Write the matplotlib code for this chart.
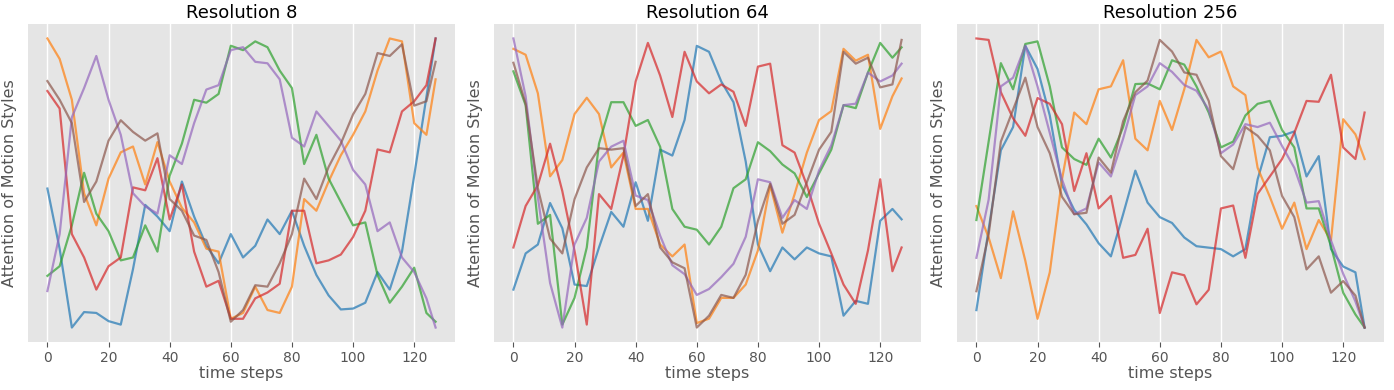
import matplotlib
matplotlib.use("Agg")
import matplotlib.pyplot as plt

plt.style.use("ggplot")
plt.rcParams['font.family'] = ['DejaVu Sans']

time_steps = list(range(0, 125, 4)) + [127]
titles = ["Resolution 8", "Resolution 64", "Resolution 256"]
colors = ["tab:blue", "tab:orange", "tab:green", "tab:red", "tab:purple", "tab:brown"]

# Resolution 8
res8_blue = [0.476,0.27,0.0,0.053,0.05,0.022,0.01,0.2, 0.42,0.38,0.33,0.5,0.38,0.28,0.22,0.32,
             0.24,0.28,0.37,0.32,0.40,0.28,0.18,0.11, 0.062,0.065,0.085,0.19,0.13,0.26,0.52,0.79, 0.99]
res8_orange = [0.99,0.92,0.78,0.46,0.35,0.51,0.60,0.62, 0.49,0.635,0.50,0.41,0.36,0.27,0.26,0.03,
               0.05,0.14,0.06,0.05,0.14,0.44,0.40,0.50, 0.59,0.66,0.74,0.88,0.99,0.98,0.70,0.66, 0.85]
res8_green = [0.177,0.21,0.35,0.53,0.39,0.33,0.23,0.24, 0.35,0.26,0.52,0.63,0.78,0.77,0.80,0.965,
              0.95,0.98,0.96,0.88,0.82,0.56,0.66,0.51, 0.43,0.35,0.36,0.18,0.085,0.14,0.205,0.05, 0.02]
res8_red = [0.81,0.75,0.32,0.24,0.13,0.21,0.24,0.48, 0.47,0.58,0.37,0.49,0.26,0.14,0.16,0.03,
            0.03,0.10,0.12,0.15,0.40,0.40,0.22,0.23, 0.25,0.31,0.40,0.61,0.60,0.74,0.775,0.83, 0.99]
res8_purple = [0.125,0.32,0.72,0.82,0.93,0.78,0.66,0.46, 0.415,0.39,0.59,0.56,0.70,0.815,0.83,0.95,
               0.96,0.91,0.905,0.85,0.65,0.62,0.74,0.69, 0.64,0.54,0.49,0.33,0.36,0.24,0.19,0.10, 0.0]
res8_brown = [0.844,0.78,0.70,0.43,0.50,0.64,0.71,0.67, 0.64,0.665,0.44,0.40,0.315,0.30,0.19,0.02,
              0.06,0.145,0.14,0.22,0.32,0.51,0.44,0.55, 0.63,0.73,0.80,0.94,0.93,0.97,0.76,0.775, 0.91]

# Resolution 64
res64_blue = [0.148,0.27,0.30,0.44,0.355,0.165,0.16,0.29, 0.41,0.36,0.51,0.38,0.62,0.60,0.72,0.97,
              0.95,0.85,0.78,0.58,0.30,0.21,0.29,0.25, 0.29,0.27,0.26,0.06,0.11,0.10,0.38,0.42, 0.385]
res64_orange = [0.96,0.94,0.81,0.53,0.585,0.74,0.795,0.74, 0.56,0.61,0.42,0.42,0.30,0.26,0.30,0.035,
                0.05,0.12,0.12,0.165,0.28,0.50,0.34,0.47, 0.61,0.72,0.75,0.96,0.92,0.94,0.69,0.80, 0.86]
res64_green = [0.884,0.77,0.37,0.40,0.03,0.12,0.29,0.64, 0.78,0.78,0.70,0.72,0.63,0.42,0.36,0.35,
               0.30,0.36,0.49,0.52,0.645,0.615,0.57,0.54, 0.46,0.54,0.62,0.77,0.76,0.88,0.98,0.93, 0.965]
res64_red = [0.29,0.43,0.50,0.64,0.48,0.28,0.03,0.47, 0.42,0.60,0.85,0.98,0.87,0.73,0.95,0.85,
             0.81,0.84,0.815,0.70,0.90,0.91,0.635,0.61, 0.50,0.37,0.27,0.165,0.10,0.28,0.52,0.21, 0.29]
res64_purple = [0.995,0.80,0.46,0.17,0.02,0.30,0.39,0.58, 0.63,0.65,0.465,0.45,0.33,0.23,0.20,0.13,
                0.15,0.19,0.235,0.326,0.52,0.51,0.39,0.45, 0.42,0.55,0.635,0.77,0.775,0.88,0.85,0.87, 0.91]
res64_brown = [0.913,0.775,0.49,0.32,0.27,0.453,0.56,0.625, 0.62,0.625,0.43,0.47,0.29,0.24,0.22,0.02,
               0.06,0.13,0.12,0.198,0.38,0.505,0.37,0.40, 0.51,0.62,0.68,0.95,0.91,0.93,0.83,0.84, 0.99]

# Resolution 256
res256_blue = [0.06,0.338,0.61,0.69,0.97,0.89,0.73,0.49, 0.405,0.355,0.29,0.245,0.39,0.54,0.43,0.38,
               0.36,0.31,0.28,0.275,0.27,0.245,0.27,0.51, 0.655,0.66,0.675,0.52,0.59,0.27,0.21,0.19, 0.0]
res256_orange = [0.418,0.31,0.17,0.40,0.23,0.03,0.19,0.51, 0.74,0.70,0.82,0.83,0.92,0.65,0.61,0.78,
                 0.68,0.82,0.99,0.93,0.95,0.83,0.80,0.55, 0.45,0.34,0.43,0.27,0.37,0.30,0.717,0.665, 0.58]
res256_green = [0.37,0.64,0.91,0.82,0.976,0.985,0.83,0.62, 0.58,0.56,0.65,0.585,0.69,0.838,0.84,0.82,
                0.92,0.905,0.83,0.74,0.62,0.64,0.73,0.77, 0.78,0.68,0.62,0.41,0.41,0.28,0.12,0.045, 0.0]
res256_red = [0.995,0.99,0.81,0.72,0.66,0.79,0.77,0.70, 0.47,0.60,0.41,0.453,0.24,0.25,0.34,0.05,
              0.19,0.18,0.08,0.13,0.41,0.42,0.24,0.46, 0.52,0.58,0.67,0.78,0.777,0.87,0.62,0.58, 0.74]
res256_purple = [0.24,0.44,0.83,0.86,0.97,0.83,0.67,0.51, 0.39,0.41,0.568,0.52,0.65,0.80,0.83,0.91,
                 0.88,0.835,0.815,0.75,0.60,0.63,0.70,0.69, 0.705,0.625,0.55,0.43,0.435,0.30,0.185,0.09, 0.0]
res256_brown = [0.125,0.32,0.64,0.75,0.86,0.69,0.60,0.45, 0.39,0.395,0.585,0.533,0.71,0.81,0.85,0.99,
                0.95,0.878,0.87,0.78,0.59,0.545,0.69,0.66, 0.61,0.453,0.38,0.20,0.245,0.12,0.16,0.11, 0.0]

panels = [
    [res8_blue, res8_orange, res8_green, res8_red, res8_purple, res8_brown],
    [res64_blue, res64_orange, res64_green, res64_red, res64_purple, res64_brown],
    [res256_blue, res256_orange, res256_green, res256_red, res256_purple, res256_brown],
]
xticks = [0, 20, 40, 60, 80, 100, 120]

fig = plt.figure(figsize=(13.94, 3.90), dpi=100)
W, H = 1394, 390
lefts = [28, 494, 957]
width = 427
bottom_px, top_px = 342, 24
for i, (series, title) in enumerate(zip(panels, titles)):
    ax = fig.add_axes([lefts[i] / W, 1 - bottom_px / H, width / W, (bottom_px - top_px) / H])
    for vals, c in zip(series, colors):
        ax.plot(time_steps, vals, color=c, alpha=0.7, linewidth=1.6)
    ax.set_facecolor("#E5E5E5")
    ax.set_xticks(xticks)
    ax.set_yticks([])
    ax.grid(True, axis="x", color="white", linewidth=1.0)
    ax.grid(False, axis="y")
    ax.set_title(title, fontsize=13, color="black", pad=4)
    ax.set_xlabel("time steps", fontsize=11.5, color="#555555", labelpad=1)
    ax.set_ylabel("Attention of Motion Styles", fontsize=11.5, color="#555555", labelpad=8)
    ax.tick_params(axis="x", labelsize=10, colors="#555555", pad=3)
    for s in ax.spines.values():
        s.set_visible(False)

fig.savefig("out.png", dpi=100, facecolor="white")
